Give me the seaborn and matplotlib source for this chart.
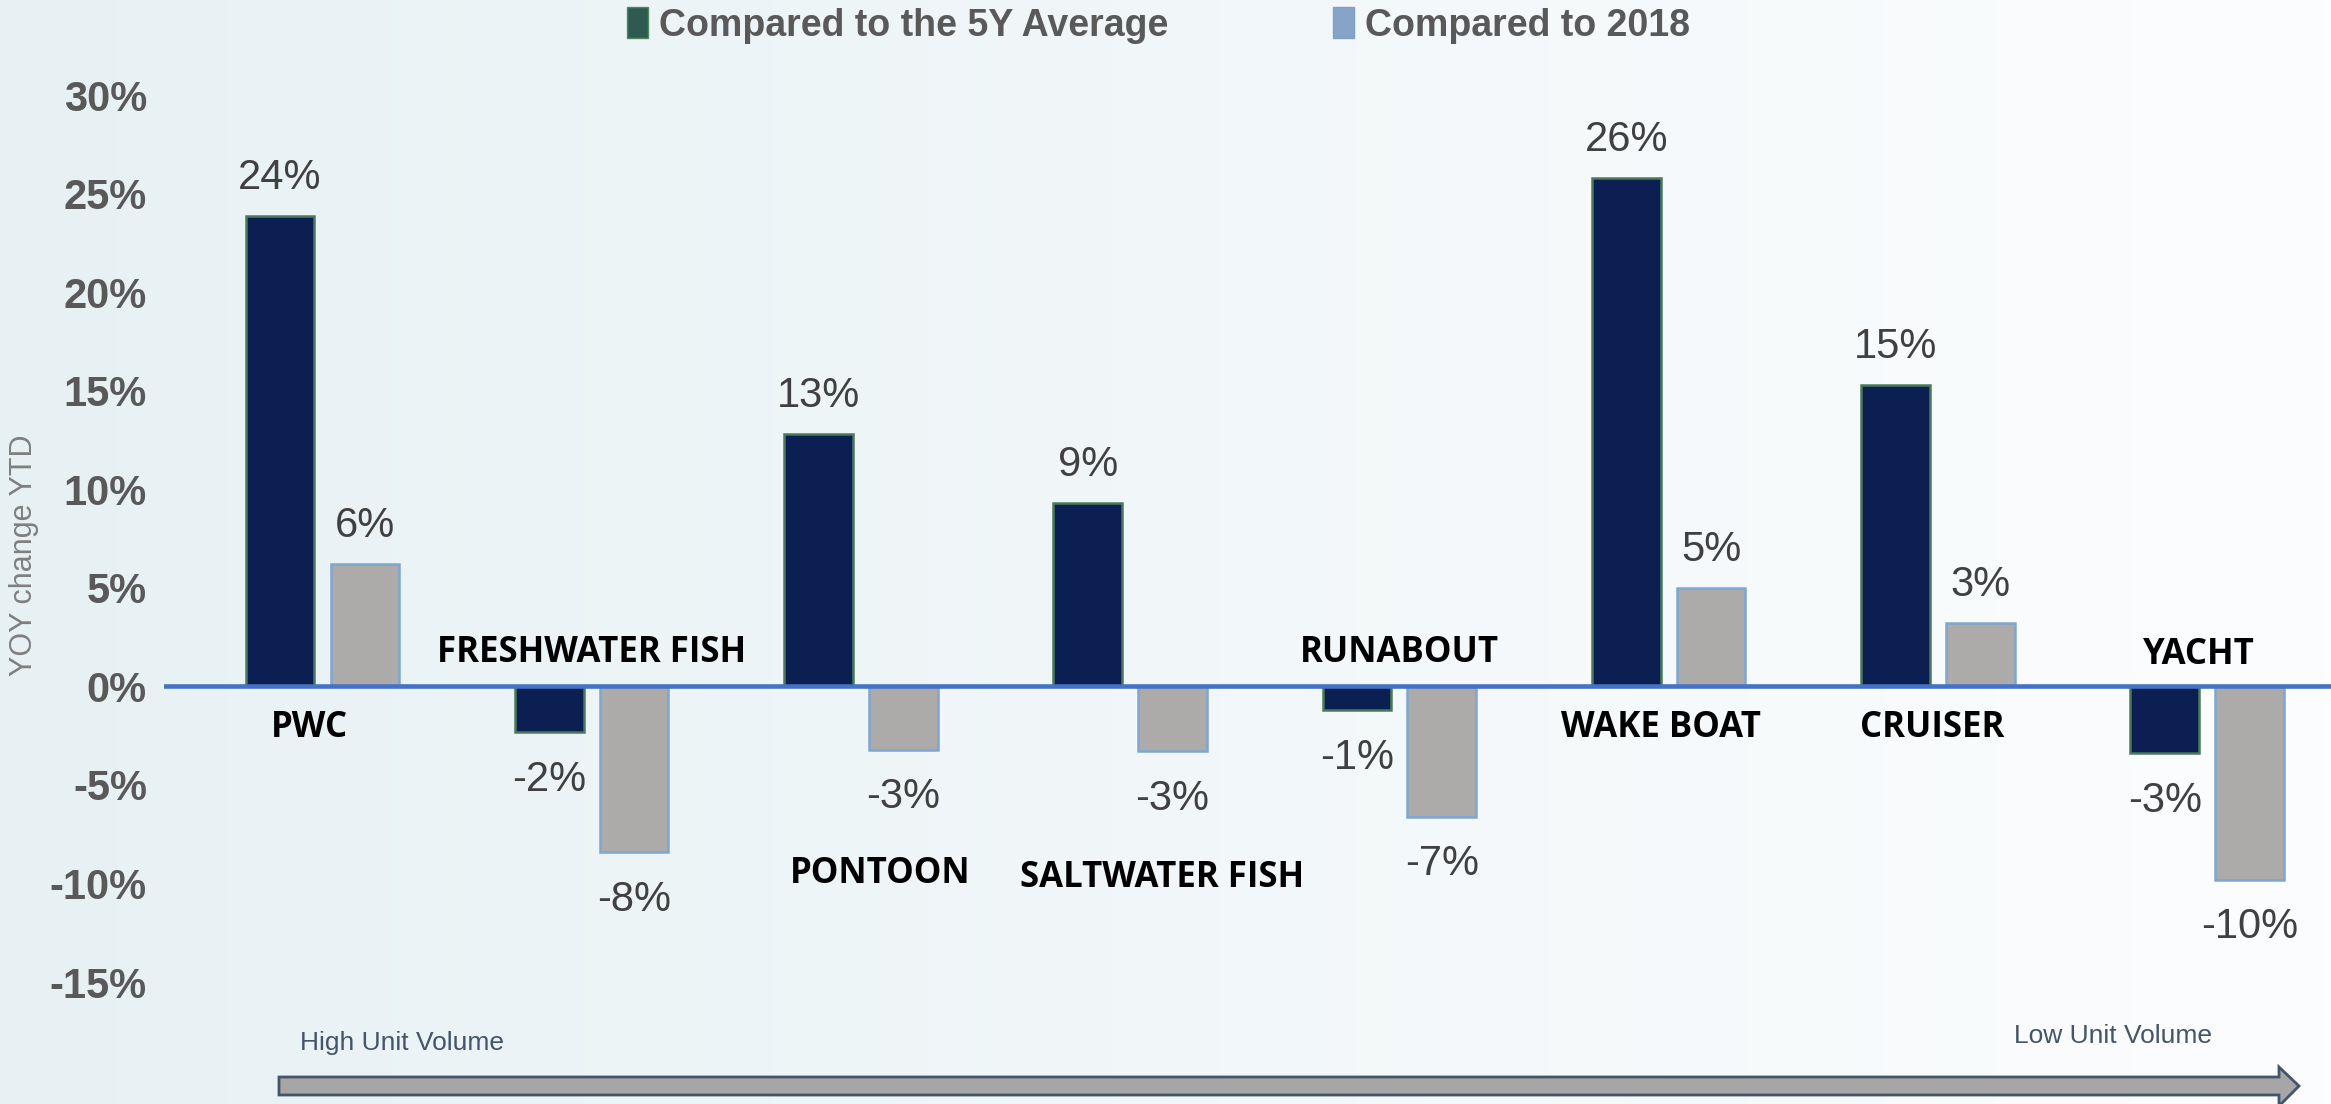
import matplotlib
matplotlib.use("Agg")
import matplotlib.pyplot as plt
import matplotlib.patches as mpatches
from matplotlib import font_manager
import numpy as np
import pandas as pd
import seaborn as sns

# data (bar heights, labels show them rounded)
categories = ["PWC", "FRESHWATER FISH", "PONTOON", "SALTWATER FISH",
              "RUNABOUT", "WAKE BOAT", "CRUISER", "YACHT"]
series_names = ["Compared to the 5Y Average", "Compared to 2018"]
vs_5y_avg = [23.9, -2.3, 12.8, 9.3, -1.2, 25.8, 15.3, -3.4]
vs_2018 = [6.2, -8.4, -3.2, -3.3, -6.6, 5.0, 3.2, -9.8]
y_ticks = [-15, -10, -5, 0, 5, 10, 15, 20, 25, 30]

# where each category name sits (data units, y) and small x nudges
name_y = [-2.1, 1.7, -9.5, -9.7, 1.7, -2.1, -2.1, 1.6]
name_dx = [-0.05, 0.0, 0.07, 0.12, 0.0, -0.03, -0.02, -0.03]

DARK = "#001A5E"
GREY = "#ADAAAA"

sns.set_theme(style="white")
installed = {f.name for f in font_manager.fontManager.ttflist}
narrow = "Liberation Sans Narrow" if "Liberation Sans Narrow" in installed else "Liberation Sans"
plt.rcParams["font.family"] = ["Liberation Sans", "DejaVu Sans"]

W, H = 2331, 1104
fig = plt.figure(figsize=(W / 100, H / 100), dpi=100)

# background gradient, light blue-grey on the left fading to white
bg = fig.add_axes([0, 0, 1, 1], zorder=-10)
grad = np.linspace(0, 1, 256).reshape(1, -1)
cmap = matplotlib.colors.LinearSegmentedColormap.from_list("bg", ["#E7F1F4", "#FCFDFE"])
bg.imshow(grad, aspect="auto", cmap=cmap, extent=[0, 1, 0, 1])
bg.set_axis_off()

ax = fig.add_axes([0.0702, 1 - 690 / 743, 1 - 0.0702, (690 - 40) / 743])
ax.set_facecolor("none")

df = pd.DataFrame({"category": categories,
                   series_names[0]: vs_5y_avg,
                   series_names[1]: vs_2018})
long = df.melt(id_vars="category", var_name="series", value_name="value")

sns.barplot(data=long, x="category", y="value", hue="series",
            order=categories, hue_order=series_names,
            palette={series_names[0]: DARK, series_names[1]: GREY},
            width=0.63, gap=0.19, errorbar=None, legend=False, ax=ax)

edge_colors = ["#4A7A5A", "#7FA6D0"]
for cont, ec in zip(ax.containers, edge_colors):
    for bar in cont:
        bar.set_edgecolor(ec)
        bar.set_linewidth(1.8)
        bar.set_zorder(2)

# value labels
for cont in ax.containers:
    for bar in cont:
        v = bar.get_height()
        x = bar.get_x() + bar.get_width() / 2
        if v >= 0:
            ax.annotate(f"{v:.0f}%", (x, v), xytext=(0, 13), textcoords="offset points",
                        ha="center", va="bottom", fontsize=30, color="#404040")
        else:
            ax.annotate(f"{v:.0f}%", (x, v), xytext=(0, -20), textcoords="offset points",
                        ha="center", va="top", fontsize=30, color="#404040")

# category names
for i, name in enumerate(categories):
    ax.text(i + name_dx[i], name_y[i], name, ha="center", va="center",
            fontsize=25, fontweight="bold", color="black", family=["Open Sans", "DejaVu Sans"])

ax.axhline(0, color="#4472C4", lw=3.3, zorder=4)

ax.set_xlim(-0.59, 7.46)
ax.set_ylim((462 - 690) / 66.3 * 5, (462 - 40) / 66.3 * 5)
ax.set_yticks(y_ticks)
ax.set_yticklabels([f"{t}%" for t in y_ticks], fontsize=30, fontweight="bold",
                   color="#595959", family=[narrow, "DejaVu Sans"])
ax.tick_params(axis="y", length=0, pad=12)
ax.set_xticks([])
ax.set_xlabel("")
ax.set_ylabel("")
for s in ax.spines.values():
    s.set_visible(False)

fig.text(0.0105, 0.497, "YOY change YTD", rotation=90, ha="center", va="center",
         fontsize=22, color="#7F7F7F")

# legend
handles = [mpatches.Patch(facecolor="#2F5A52", edgecolor="#4E8A5E", label=series_names[0]),
           mpatches.Patch(facecolor="#86A4C8", edgecolor="#7FA0C8", label=series_names[1])]
leg = fig.legend(handles=handles, loc="center", bbox_to_anchor=(0.497, 0.977), ncol=2,
                 frameon=False, handlelength=0.55, handleheight=0.9, handletextpad=0.3,
                 columnspacing=4.4,
                 prop={"family": [narrow, "DejaVu Sans"], "weight": "bold", "size": 27})
for t in leg.get_texts():
    t.set_color("#595959")

# volume arrow at the bottom
fig.text(300 / W, 1 - 1043 / H, "High Unit Volume", ha="left", va="center",
         fontsize=19, color="#44546A")
fig.text(2212 / W, 1 - 1036 / H, "Low Unit Volume", ha="right", va="center",
         fontsize=19, color="#44546A")
pts = [(279, 1077), (2279, 1077), (2279, 1067), (2299, 1086), (2279, 1106),
       (2279, 1095), (279, 1095)]
arrow = mpatches.Polygon([(x / W, 1 - y / H) for x, y in pts], closed=True,
                         transform=fig.transFigure, facecolor="#A6A6A6",
                         edgecolor="#44546A", lw=2)
fig.patches.append(arrow)

fig.savefig("out.png", dpi=100)
